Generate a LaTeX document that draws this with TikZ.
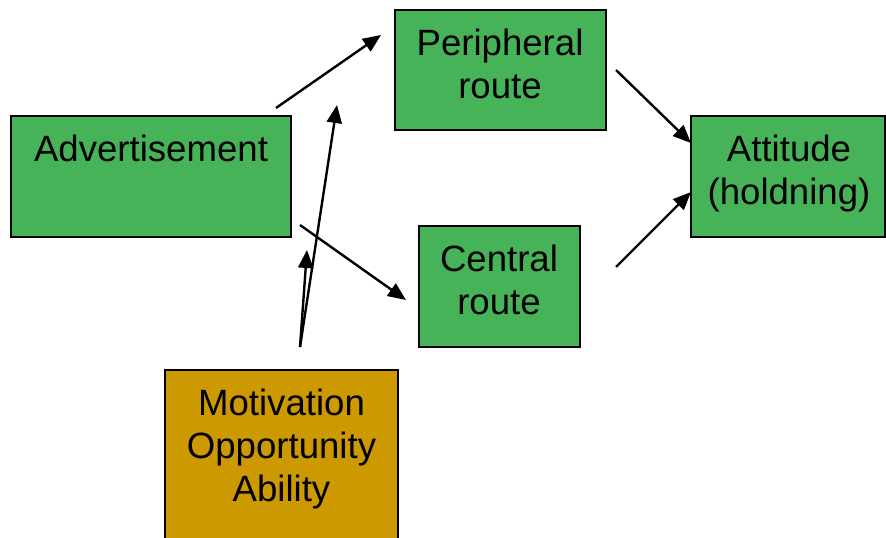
\documentclass[tikz,border=0pt]{standalone}
\usepackage{fontspec}
\setmainfont{Liberation Sans}
\usetikzlibrary{arrows.meta}
\definecolor{boxgreen}{RGB}{71,179,88}
\definecolor{boxgold}{RGB}{204,153,0}
\begin{document}
\begin{tikzpicture}[x=1pt,y=-1pt,
  gbox/.style={draw=black, line width=2pt, fill=boxgreen, inner sep=0pt},
  obox/.style={draw=black, line width=2pt, fill=boxgold, inner sep=0pt},
  lbl/.style={font=\fontsize{36.6}{43}\selectfont, align=center, inner sep=0pt},
  arr/.style={line width=2.4pt, -{Triangle[length=18pt,width=15pt]}}]
\useasboundingbox (0,0) rectangle (886,538);
% boxes
\node[gbox, minimum width=280pt, minimum height=121pt] (adv) at (151,176.5) {};
\node[gbox, minimum width=211pt, minimum height=120pt] (per) at (500.5,70) {};
\node[gbox, minimum width=161pt, minimum height=121pt] (cen) at (499.5,286.5) {};
\node[gbox, minimum width=194pt, minimum height=121pt] (att) at (788,176.5) {};
\node[obox, minimum width=233pt, minimum height=190pt] (moa) at (281.5,465) {};
% texts
\node[lbl] (advt) at (151,148) {Advertisement};
\node[lbl] (pert) at (500,63.5) {Peripheral\\route};
\node[lbl] (cent) at (499,280) {Central\\route};
\node[lbl] (attt) at (789,173.5) {Attitude\\(holdning)};
\node[lbl] (moat) at (281.5,449.5) {Motivation\\Opportunity\\Ability};
% connector end points
\coordinate (a1s) at (276,108);
\coordinate (a1e) at (381,35);
\coordinate (a2s) at (300,225);
\coordinate (a2e) at (406,300);
\coordinate (a3s) at (300,347);
\coordinate (a3e) at (337,105);
\coordinate (a4e) at (307,250);
\coordinate (a5s) at (616,70);
\coordinate (a5e) at (691,143);
\coordinate (a6s) at (616,267);
\coordinate (a6e) at (691,192);
% connectors
\draw[arr] (a1s) -- (a1e);
\draw[arr] (a2s) -- (a2e);
\draw[arr] (a3s) -- (a3e);
\draw[arr] (a3s) -- (a4e);
\draw[arr] (a5s) -- (a5e);
\draw[arr] (a6s) -- (a6e);
\end{tikzpicture}
\end{document}
